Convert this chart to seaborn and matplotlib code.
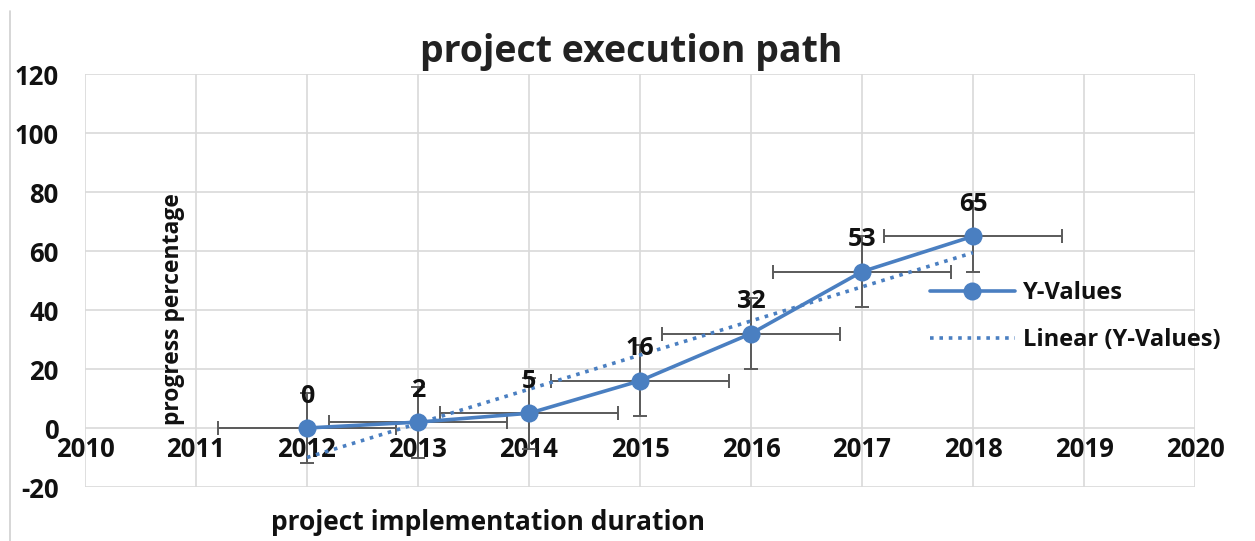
import numpy as np
import pandas as pd
import matplotlib.pyplot as plt
import seaborn as sns
from matplotlib.lines import Line2D

# chart data
years = [2012, 2013, 2014, 2015, 2016, 2017, 2018]
progress = [0, 2, 5, 16, 32, 53, 65]
x_err = [0.8, 0.8, 0.8, 0.8, 0.8, 0.8, 0.8]
y_err = [12, 12, 12, 12, 12, 12, 12]
x_ticks = list(range(2010, 2021))
y_ticks = list(range(-20, 121, 20))

df = pd.DataFrame({'year': years, 'progress': progress})

sns.set_theme(style='white')
plt.rcParams['font.family'] = ['Open Sans', 'DejaVu Sans']
plt.rcParams['font.weight'] = 'bold'
plt.rcParams['axes.unicode_minus'] = False

blue = '#4a7fc1'
grey = '#5a5a5a'
ink = '#111111'

fig = plt.figure(figsize=(12.55, 5.41), dpi=100)
ax = fig.add_axes([0.0677, 0.0998, 0.8845, 0.7634])

# error bars first so the line sits on top
ax.errorbar(years, progress, xerr=x_err, yerr=y_err, fmt='none',
            ecolor=grey, elinewidth=1.4, capsize=5, capthick=1.4, zorder=2)

sns.lineplot(data=df, x='year', y='progress', ax=ax, color=blue, lw=2.6,
             marker='o', markersize=13, markeredgewidth=0, zorder=3,
             label='Y-Values')
sns.regplot(data=df, x='year', y='progress', ax=ax, scatter=False, ci=None,
            line_kws={'color': blue, 'lw': 2.6, 'ls': (0, (1, 1.6)), 'zorder': 3},
            label='Linear (Y-Values)')

for x, y in zip(years, progress):
    ax.annotate(str(y), (x, y), xytext=(0, 23), textcoords='offset points',
                ha='center', va='center', fontsize=18, fontweight='bold',
                color=ink, zorder=5)

ax.set_xlim(2010, 2020)
ax.set_ylim(-20, 120)
ax.set_xticks(x_ticks)
ax.set_yticks(y_ticks)
ax.grid(True, color='#d9d9d9', lw=1.2)
ax.set_axisbelow(True)
for s in ax.spines.values():
    s.set_visible(False)

# x axis crosses at y = 0
ax.spines['bottom'].set_position(('data', 0))
ax.tick_params(axis='x', length=0, pad=6, labelsize=18.5)
ax.tick_params(axis='y', length=0, pad=19, labelsize=18.5)
for lab in ax.get_xticklabels() + ax.get_yticklabels():
    lab.set_fontweight('bold')
    lab.set_color(ink)

ax.set_xlabel('')
ax.set_ylabel('')
ax.text(0.079, 0.43, 'progress percentage', transform=ax.transAxes,
        rotation=90, ha='center', va='center', fontsize=16.5,
        fontweight='bold', color=ink)
fig.text(0.389, 0.035, 'project implementation duration', ha='center',
         va='center', fontsize=19, fontweight='bold', color=ink)
fig.text(0.503, 0.903, 'project execution path', ha='center', va='center',
         fontsize=27, fontweight='bold', color='#222222')

leg = ax.legend(loc='upper left', bbox_to_anchor=(0.761, 0.498), frameon=False,
                fontsize=17, handlelength=3.6, labelspacing=0.95,
                handletextpad=0.35, borderpad=0, borderaxespad=0)
for t in leg.get_texts():
    t.set_fontweight('bold')
    t.set_color(ink)

# chart area border on the left edge
fig.add_artist(Line2D([0.008, 0.008], [0, 0.98], color='#d0d0d0', lw=1.2,
                      transform=fig.transFigure))

fig.savefig('out.png', dpi=100)
